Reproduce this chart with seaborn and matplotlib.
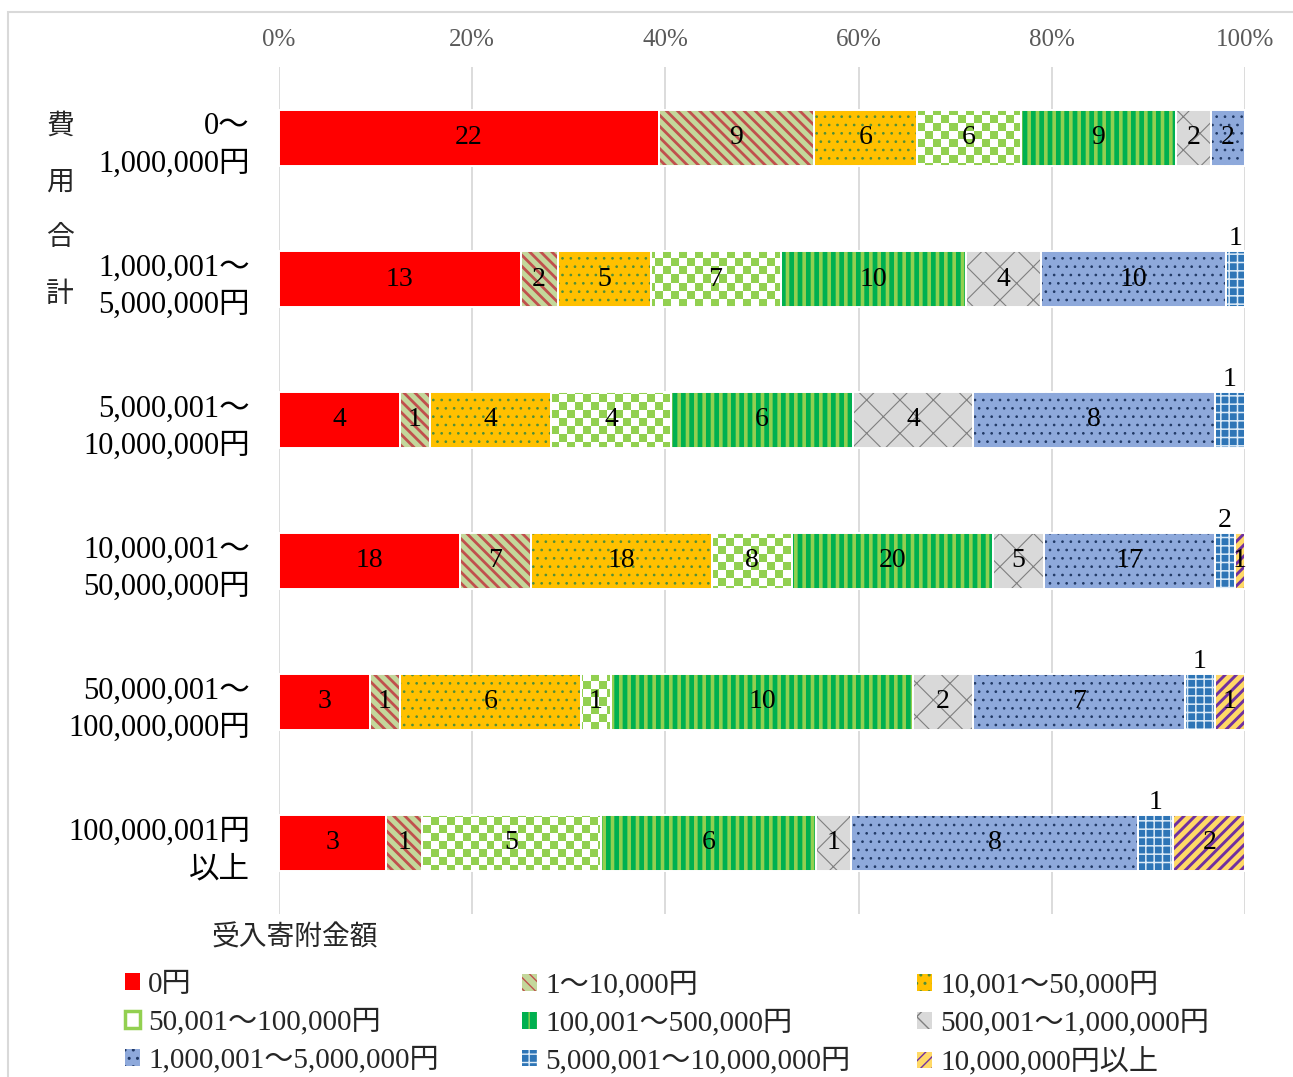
import numpy as np
import matplotlib as mpl
import matplotlib.pyplot as plt
from matplotlib.patches import Patch, Rectangle
from matplotlib.colors import ListedColormap
import seaborn as sns

# ---- data (counts per cost band, rows top -> bottom) ------------------------
rows = [
    "0～\n1,000,000円",
    "1,000,001～\n5,000,000円",
    "5,000,001～\n10,000,000円",
    "10,000,001～\n50,000,000円",
    "50,000,001～\n100,000,000円",
    "100,000,001円\n以上",
]
bands = [
    "0円", "1～10,000円", "10,001～50,000円",
    "50,001～100,000円", "100,001～500,000円", "500,001～1,000,000円",
    "1,000,001～5,000,000円", "5,000,001～10,000,000円", "10,000,000円以上",
]
yen_0 = [22, 13, 4, 18, 3, 3]
yen_1_10k = [9, 2, 1, 7, 1, 1]
yen_10k_50k = [6, 5, 4, 18, 6, 0]
yen_50k_100k = [6, 7, 4, 8, 1, 5]
yen_100k_500k = [9, 10, 6, 20, 10, 6]
yen_500k_1m = [2, 4, 4, 5, 2, 1]
yen_1m_5m = [2, 10, 8, 17, 7, 8]
yen_5m_10m = [0, 1, 1, 2, 1, 1]
yen_10m_over = [0, 0, 0, 1, 1, 2]

pct_ticks = [0, 0.2, 0.4, 0.6, 0.8, 1.0]
pct_labels = ["0%", "20%", "40%", "60%", "80%", "100%"]

counts = [yen_0, yen_1_10k, yen_10k_50k, yen_50k_100k, yen_100k_500k,
          yen_500k_1m, yen_1m_5m, yen_5m_10m, yen_10m_over]

# face, hatch, hatch colour, hatch linewidth
styles = [
    ("#FF0000", None, "#FF0000", 1.0),
    ("#C4D79B", "\\\\\\", "#C0504D", 2.0),
    ("#FFC000", "..", "#4E8F3A", 0.7),
    ("#FFFFFF", None, "#92D050", 1.0),      # checkerboard drawn below
    ("#00B050", "||", "#92D050", 2.6),
    ("#D9D9D9", "x", "#7F7F7F", 0.8),
    ("#8EA9DB", "..", "#203864", 0.7),
    ("#2E75B6", "++", "#DDEBF7", 1.1),
    ("#FFD966", "///", "#7030A0", 2.1),
]
CHECKER = 3
ABOVE = 7

W, H = 1293, 1077
sns.set_theme(style="white")
plt.rcParams["font.family"] = ["Liberation Serif", "Noto Sans CJK JP"]

fig = plt.figure(figsize=(W / 100, H / 100), dpi=100)
ax = fig.add_axes([279 / W, 1 - 913.5 / H, 966 / W, 846 / H])

totals = np.sum(counts, axis=0)
left = np.zeros(len(rows))
conts = []
for k, vals in enumerate(counts):
    share = np.asarray(vals) / totals
    face, hatch, hc, hlw = styles[k]
    with mpl.rc_context({"hatch.linewidth": hlw}):
        sns.barplot(x=share, y=rows, order=rows, orient="h", left=left,
                    width=0.4, color=face, saturation=1, errorbar=None,
                    hatch=hatch, edgecolor=hc, linewidth=0, zorder=2, ax=ax)
    cont = ax.containers[-1]
    for p in cont.patches:
        if hasattr(p, "set_hatch_linewidth"):
            p.set_hatch_linewidth(hlw)
    conts.append((cont, left.copy(), share))
    left = left + share

ax.set_xlim(0, 1)
ax.set_ylim(len(rows) - 0.5, -0.5)

# checkerboard fill for the 50,001~100,000 band
cell = 8
nc, nr = int(966 / cell) + 1, int(846 / cell) + 1
board = np.indices((nr, nc)).sum(axis=0) % 2
cmap = ListedColormap(["#FFFFFF", "#92D050"])
for p in conts[CHECKER][0].patches:
    im = ax.imshow(board, cmap=cmap, extent=(0, 1, len(rows) - 0.5, -0.5),
                   aspect="auto", interpolation="nearest", zorder=2.5)
    im.set_clip_path(p)
ax.set_xlim(0, 1)
ax.set_ylim(len(rows) - 0.5, -0.5)

# white separators
for k, (cont, lft, share) in enumerate(conts):
    sns.barplot(x=share, y=rows, order=rows, orient="h", left=lft,
                width=0.4, color="white", facecolor="none", saturation=1,
                errorbar=None, edgecolor="white", linewidth=1.4, zorder=3, ax=ax)

# value labels
for k, (cont, lft, share) in enumerate(conts):
    vals = counts[k]
    if k == ABOVE:
        for i, v in enumerate(vals):
            if v:
                ax.text(lft[i] + share[i] / 2, i - 0.29, str(v), ha="center",
                        va="center", fontsize=20, color="black", zorder=5)
    else:
        ax.bar_label(cont, labels=[str(v) if v else "" for v in vals],
                     label_type="center", fontsize=20, color="black", zorder=5)

ax.set_xticks(pct_ticks, pct_labels)
ax.xaxis.tick_top()
ax.tick_params(axis="x", length=0, pad=12, labelsize=18, labelcolor="#595959")
ax.tick_params(axis="y", length=0, pad=21, labelsize=22, labelcolor="black")
for lbl in ax.get_yticklabels():
    lbl.set_linespacing(1.4)
ax.grid(axis="x", color="#D9D9D9", linewidth=1.3)
ax.grid(axis="y", visible=False)
ax.set_axisbelow(True)
ax.set_xlabel("")
ax.set_ylabel("")
for s in ax.spines.values():
    s.set_visible(False)

fig.text(60 / W, 1 - 211 / H, "費\n用\n合\n計", ha="center", va="center",
         fontsize=20, linespacing=2.6)
fig.text(212 / W, 1 - 938 / H, "受入寄附金額", ha="left", va="center", fontsize=20)

handles = []
for face, hatch, hc, hlw in styles:
    handles.append(Patch(facecolor=face, hatch=hatch, edgecolor=hc, linewidth=0))
handles[CHECKER] = Patch(facecolor="#FFFFFF", edgecolor="#92D050", linewidth=2.5)
col_x = [125, 522, 917]
for c in range(3):
    fig.legend(handles[c::3], bands[c::3], loc="upper left",
               bbox_to_anchor=(col_x[c] / W, 1 - 972 / H), frameon=False,
               fontsize=21, handlelength=0.5, handleheight=0.5,
               handletextpad=0.3, labelspacing=0.38, borderpad=0,
               borderaxespad=0)

fig.add_artist(Rectangle((8 / W, -0.1), 1.2, 1 - 12 / H + 0.1,
                         transform=fig.transFigure, fill=False,
                         edgecolor="#D9D9D9", linewidth=1.5))

fig.savefig("out.png", dpi=100)
